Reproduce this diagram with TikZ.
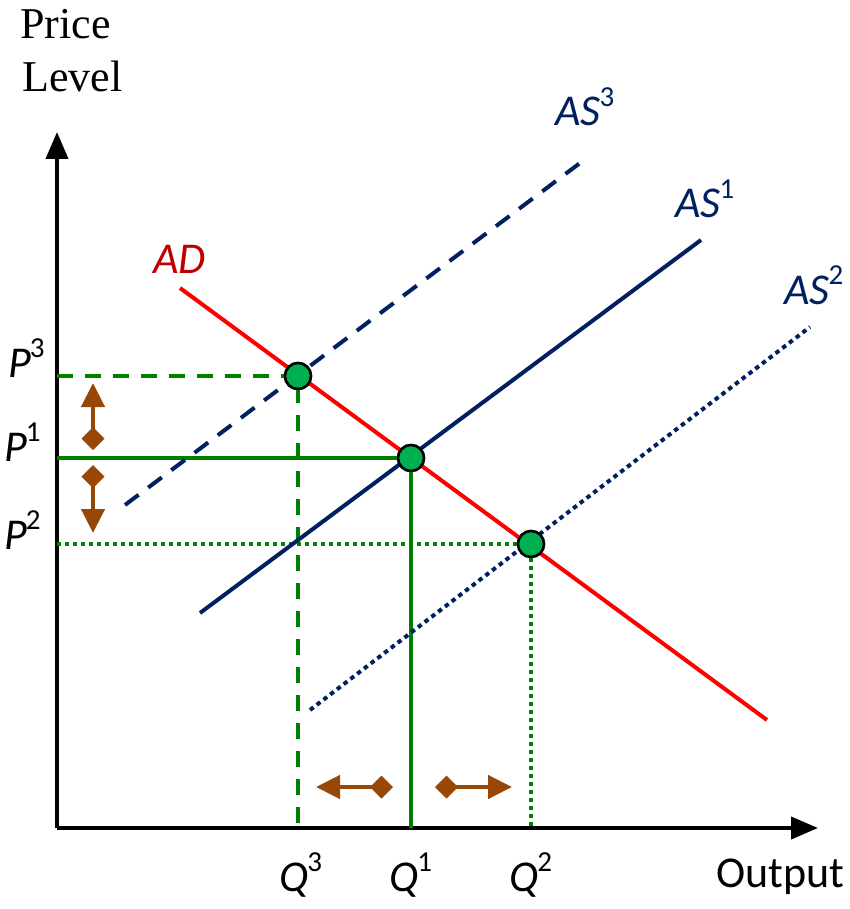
\documentclass[tikz,border=0pt]{standalone}
\usepackage{fontspec}
\setmainfont{Carlito}
\newfontfamily\plserif{Liberation Serif}
\usetikzlibrary{arrows.meta}
\definecolor{navy}{RGB}{0,32,96}
\definecolor{grn}{RGB}{0,128,0}
\definecolor{eqgreen}{RGB}{0,176,80}
\definecolor{brn}{RGB}{151,71,6}
\definecolor{adred}{RGB}{192,0,0}
\newcommand{\suplbl}[2]{\textit{#1}\kern-1pt\raisebox{0.45em}{\fontsize{29}{29}\selectfont #2}}
\tikzset{
  axisline/.style={line width=4pt,-{Triangle[length=27pt,width=22pt]}},
  adline/.style={line width=4pt,red},
  asline/.style={line width=4pt,navy},
  guide/.style={line width=3.5pt,grn},
  eqpt/.style={circle,draw=black,line width=2.5pt,fill=eqgreen,minimum size=26pt,inner sep=0pt},
  shiftarrow/.style={line width=4.5pt,brn,{Turned Square[length=23pt,width=23pt]}-{Triangle[length=24pt,width=23pt]}},
  lbl/.style={font=\fontsize{44}{44}\selectfont,inner sep=0pt},
}
\begin{document}
\begin{tikzpicture}[x=1pt,y=-1pt]
\useasboundingbox (0,0) rectangle (850,909);
% axes
\coordinate (O) at (57,828);
\coordinate (ytop) at (57,132);
\coordinate (xend) at (818,828);
\draw[axisline] (O) -- (ytop);
\draw[axisline] (O) -- (xend);
% curves
\coordinate (ad1) at (180,288);
\coordinate (ad2) at (767,720);
\coordinate (as1a) at (200,613);
\coordinate (as1b) at (701,240);
\coordinate (as3a) at (125,505);
\coordinate (as3b) at (584,160);
\coordinate (as2a) at (310,710);
\coordinate (as2b) at (810,327);
% guides
\coordinate (p3) at (57,376);
\coordinate (p1) at (57,458);
\coordinate (p2) at (57,544);
\coordinate (q3) at (298,828);
\coordinate (q1) at (411,828);
\coordinate (q2) at (531,828);
\node[eqpt] (e3) at (298,376) {};
\node[eqpt] (e1) at (411,458) {};
\node[eqpt] (e2) at (531,544) {};
\draw[guide,dash pattern=on 16pt off 12pt] (p3) -- (e3.center) -- (q3);
\draw[guide] (p1) -- (e1.center) -- (q1);
\draw[guide,dash pattern=on 4pt off 4pt] (p2) -- (e2.center) -- (q2);
\draw[asline,dash pattern=on 17pt off 12pt] (as3a) -- (as3b);
\draw[asline] (as1a) -- (as1b);
\draw[asline,dash pattern=on 4.5pt off 4pt] (as2a) -- (as2b);
\draw[adline] (ad1) -- (ad2);
% redraw points on top
\node[eqpt] at (e3) {};
\node[eqpt] at (e1) {};
\node[eqpt] at (e2) {};
% shift arrows
\coordinate (sa1) at (93,450);
\coordinate (sa1t) at (93,383);
\coordinate (sa2) at (93,465);
\coordinate (sa2t) at (93,533);
\coordinate (sa3) at (393,787);
\coordinate (sa3t) at (316,787);
\coordinate (sa4) at (435,787);
\coordinate (sa4t) at (512,787);
\draw[shiftarrow] (sa1) -- (sa1t);
\draw[shiftarrow] (sa2) -- (sa2t);
\draw[shiftarrow] (sa3) -- (sa3t);
\draw[shiftarrow] (sa4) -- (sa4t);
% labels
\node[anchor=base west,inner sep=0pt,font=\plserif\fontsize{44}{44}\selectfont] (pl1) at (20,39) {Price};
\node[anchor=base west,inner sep=0pt,font=\plserif\fontsize{44}{44}\selectfont] (pl2) at (22,92) {Level};
\node[lbl,anchor=base west,text=adred] (adl) at (153,273) {\textit{AD}};
\node[lbl,anchor=base west,text=navy] (as3l) at (555,126) {\suplbl{AS}{3}};
\node[lbl,anchor=base west,text=navy] (as1l) at (675,218) {\suplbl{AS}{1}};
\node[lbl,anchor=base west,text=navy] (as2l) at (784,304) {\suplbl{AS}{2}};
\node[lbl,anchor=base west] (p3l) at (8,377) {\suplbl{P}{3}};
\node[lbl,anchor=base west] (p1l) at (4,461) {\suplbl{P}{1}};
\node[lbl,anchor=base west] (p2l) at (4,549) {\suplbl{P}{2}};
\node[lbl,anchor=base west] (q3l) at (279,891) {\suplbl{Q}{3}};
\node[lbl,anchor=base west] (q1l) at (389,891) {\suplbl{Q}{1}};
\node[lbl,anchor=base west] (q2l) at (509,891) {\suplbl{Q}{2}};
\node[lbl,anchor=base west] (outl) at (716,887) {Output};
\end{tikzpicture}
\end{document}
